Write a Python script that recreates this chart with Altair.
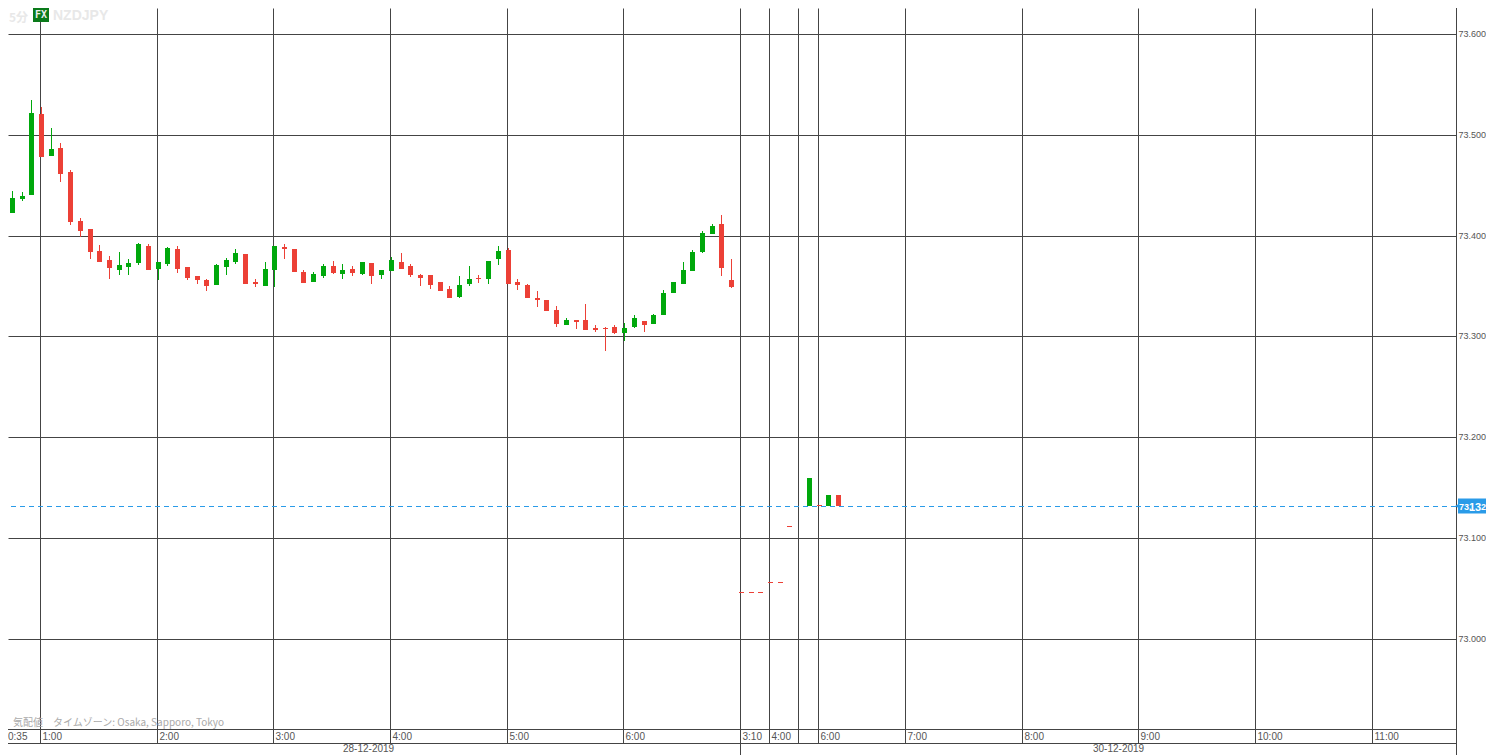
import altair as alt
import pandas as pd

slots = [-4,-3,-2,-1,0,1,2,3,4,5,6,7,8,9,10,11,12,13,14,15,16,17,18,19,20,21,22,
         23,24,25,26,27,28,29,30,31,32,33,34,35,36,37,38,39,40,41,42,43,44,45,46,47,48,
         49,50,51,52,53,54,55,56,57,58,59,60,61,62,63,64,65,66,67,68,69,70,71,
         72,73,74,75,76,77,79,80,81,82]
opens = [73.409,73.422,73.436,73.440,73.521,73.479,73.487,73.463,73.415,73.407,73.385,73.376,73.366,73.369,73.373,73.390,73.367,73.372,73.387,73.369,73.360,73.356,73.351,73.369,73.374,73.382,73.354,
         73.350,73.366,73.389,73.387,73.364,73.354,73.360,73.370,73.362,73.367,73.362,73.373,73.361,73.365,73.374,73.370,73.361,73.361,73.354,73.347,73.339,73.352,73.358,73.357,73.377,73.386,
         73.354,73.351,73.338,73.336,73.326,73.311,73.316,73.316,73.308,73.308,73.309,73.303,73.309,73.315,73.312,73.321,73.343,73.352,73.365,73.384,73.402,73.412,73.356,
         73.047,73.047,73.047,73.057,73.057,73.112,73.132,73.133,73.132,73.143]
highs = [73.423,73.444,73.443,73.535,73.528,73.507,73.492,73.465,73.418,73.407,73.391,73.380,73.384,73.377,73.393,73.392,73.374,73.389,73.390,73.369,73.360,73.357,73.372,73.378,73.387,73.382,73.357,
         73.374,73.390,73.392,73.387,73.366,73.364,73.372,73.375,73.372,73.370,73.374,73.373,73.366,73.379,73.383,73.372,73.362,73.361,73.354,73.350,73.360,73.370,73.361,73.375,73.390,73.388,
         73.357,73.352,73.345,73.336,73.330,73.318,73.316,73.332,73.311,73.309,73.311,73.313,73.321,73.315,73.322,73.346,73.354,73.374,73.386,73.405,73.412,73.420,73.377,
         73.047,73.047,73.047,73.057,73.057,73.112,73.160,73.133,73.143,73.143]
lows = [73.394,73.422,73.434,73.440,73.478,73.479,73.453,73.411,73.399,73.377,73.374,73.357,73.361,73.361,73.371,73.366,73.356,73.370,73.363,73.356,73.352,73.345,73.351,73.361,73.372,73.352,73.349,
        73.350,73.349,73.377,73.364,73.353,73.354,73.358,73.362,73.357,73.360,73.361,73.352,73.357,73.365,73.367,73.359,73.350,73.347,73.345,73.338,73.338,73.350,73.353,73.352,73.371,73.352,
        73.346,73.338,73.329,73.325,73.309,73.311,73.307,73.306,73.304,73.286,73.302,73.296,73.308,73.304,73.312,73.321,73.343,73.352,73.365,73.383,73.402,73.360,73.348,
        73.046,73.046,73.046,73.056,73.056,73.111,73.132,73.132,73.132,73.132]
closes = [73.421,73.437,73.439,73.522,73.478,73.486,73.461,73.414,73.405,73.384,73.374,73.368,73.371,73.373,73.392,73.366,73.374,73.388,73.367,73.358,73.356,73.350,73.371,73.376,73.383,73.352,73.352,
          73.367,73.390,73.387,73.364,73.353,73.362,73.370,73.363,73.366,73.363,73.374,73.360,73.366,73.376,73.367,73.361,73.358,73.351,73.345,73.338,73.351,73.357,73.357,73.375,73.385,73.352,
          73.351,73.338,73.336,73.325,73.312,73.316,73.314,73.306,73.306,73.307,73.303,73.308,73.318,73.311,73.321,73.343,73.354,73.366,73.384,73.403,73.410,73.368,73.349,
          73.046,73.046,73.046,73.056,73.056,73.111,73.160,73.132,73.143,73.132]

price_ticks = [73.0, 73.1, 73.2, 73.3, 73.4, 73.5, 73.6]
time_slots = [0, 12, 24, 36, 48, 60, 72, 75, 78, 80, 89, 101, 113, 125, 137]
time_labels = ["1:00", "2:00", "3:00", "4:00", "5:00", "6:00", "3:10", "4:00", "", "6:00",
               "7:00", "8:00", "9:00", "10:00", "11:00"]
last_price = 73.132

GREEN, RED = "#00a80c", "#ec4036"
LINE, BLUE = "#444444", "#2a9be8"
FONT = "Liberation Sans"

df = pd.DataFrame({"s": slots, "o": opens, "h": highs, "l": lows, "c": closes})
df["dir"] = ["up" if c >= o else "down" for o, c in zip(opens, closes)]

xscale = alt.Scale(domain=[-3.292, 145.68], round=True, nice=False, zero=False, padding=0)
yscale = alt.Scale(domain=[72.91073, 73.62579], round=True, nice=False, zero=False)
color = alt.Color("dir:N", legend=None,
                  scale=alt.Scale(domain=["up", "down"], range=[GREEN, RED]))
label_map = "{" + ",".join(f"'{s}':'{t}'" for s, t in zip(time_slots, time_labels)) + "}"

base = alt.Chart(df)
wicks = base.mark_rule(strokeWidth=1, xOffset=1.5).encode(
    x=alt.X("s:Q", scale=xscale, title=None, axis=alt.Axis(
        values=time_slots, grid=True, gridColor=LINE, gridWidth=1, gridOpacity=1,
        domain=False, ticks=True, tickColor=LINE, tickSize=14, tickWidth=1,
        labelExpr=f"{label_map}[datum.value]", labelAlign="left", labelBaseline="middle",
        labelPadding=-7, labelOffset=2, labelFlush=False, labelBound=False,
        labelOverlap=False, labelFont=FONT, labelFontSize=10, labelColor="#555555")),
    y=alt.Y("l:Q", scale=yscale, title=None, axis=alt.Axis(
        values=price_ticks, orient="right", format=".3f", grid=True, gridColor=LINE,
        gridWidth=1, gridOpacity=1, domain=False, ticks=False, labelPadding=2,
        labelOffset=-1, labelFont=FONT, labelFontSize=9, labelColor="#555555",
        labelOverlap=False, labelFlush=False, labelBound=False)),
    y2="h:Q", color=color)
bodies = base.mark_bar(size=5, xOffset=1.5, orient="vertical").encode(
    x=alt.X("s:Q", scale=xscale, title=None),
    y=alt.Y("o:Q", scale=yscale, title=None), y2="c:Q", color=color)

price_df = pd.DataFrame({"p": [last_price]})
price_line = alt.Chart(price_df).mark_rule(color=BLUE, strokeWidth=1, strokeDash=[5, 4], yOffset=0.5).encode(
    y=alt.Y("p:Q", scale=yscale, title=None))
one = pd.DataFrame({"k": [0]})


def label(text, px, py, **kw):
    return alt.Chart(pd.DataFrame({"t": [text]})).mark_text(**kw).encode(
        x=alt.value(px - 8), y=alt.value(py - 8), text="t:N")


def hline(py):
    return alt.Chart(one).mark_rule(color=LINE, strokeWidth=1).encode(
        x=alt.value(0), x2=alt.value(1448), y=alt.value(py - 8))


def box(x0, x1, y0, y1, fill):
    return alt.Chart(one).mark_rect(color=fill).encode(
        x=alt.value(x0 - 8), x2=alt.value(x1 - 8), y=alt.value(y0 - 8), y2=alt.value(y1 - 8))


axis_right = alt.Chart(one).mark_rule(color=LINE, strokeWidth=1).encode(
    x=alt.value(1448.5), y=alt.value(0), y2=alt.value(747))
split = alt.Chart(one).mark_rule(color=LINE, strokeWidth=1).encode(
    x=alt.value(732.5), y=alt.value(721), y2=alt.value(747))
tip = alt.Chart(price_df).mark_point(shape="triangle-left", filled=True, color=BLUE, size=30, opacity=1).encode(
    x=alt.value(1449.5), y=alt.Y("p:Q", scale=yscale, title=None))

small = dict(font=FONT, fontSize=10, color="#555555", align="left", baseline="middle")
val = dict(font=FONT, color="white", align="left", baseline="alphabetic", fontWeight="bold")
head = dict(font="Noto Sans CJK JP", fontSize=12, fontWeight="bold", color="#e8e8e8",
            align="left", baseline="middle")

chart = alt.layer(
    wicks, bodies, price_line,
    hline(729.5), hline(743.5), axis_right, split,
    label("0:35", 8, 737, **small),
    label("28-12-2019", 343, 749, **small),
    label("30-12-2019", 1093, 749, **small),
    label("気配値　タイムゾーン: Osaka, Sapporo, Tokyo", 13, 723,
          font="Noto Sans CJK JP", fontSize=10, color="#aaaaaa", align="left", baseline="middle"),
    box(1458, 1486, 498.5, 513.5, BLUE), tip,
    label("73.", 1459, 510, fontSize=9, **val),
    label("13", 1469, 511, fontSize=11, **val),
    label("2", 1481, 510, fontSize=9, **val),
    label("5分", 9, 18, **head),
    box(33, 49, 8, 22, "#0a7a1a"),
    label("FX", 35, 15, font="DejaVu Sans Mono", fontSize=10, fontWeight="bold", color="#eeeeee",
          align="left", baseline="middle"),
    label("NZDJPY", 53, 16, font=FONT, fontSize=14, fontWeight="bold", color="#e8e8e8",
          align="left", baseline="middle"),
).properties(
    width=1448, height=721,
    autosize=alt.AutoSizeParams(type="none"),
    padding={"left": 0, "top": 0, "right": 30, "bottom": 26},
).configure_view(stroke=None)

chart.save("out.html", embed_options={"renderer": "svg", "actions": False})
